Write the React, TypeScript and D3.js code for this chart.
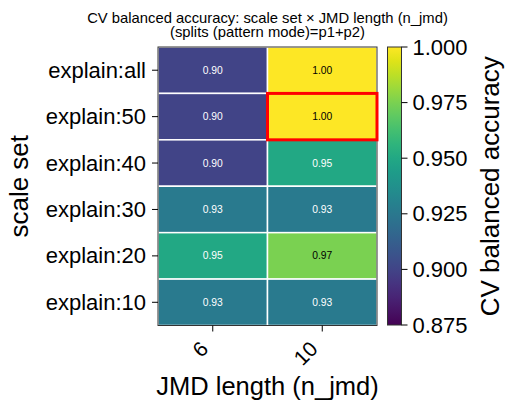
import React from "react";
import * as d3 from "d3";

const rowLabels = ["explain:all", "explain:50", "explain:40", "explain:30", "explain:20", "explain:10"];
const colLabels = ["6", "10"];
const values6 = [0.9, 0.9, 0.9, 0.926, 0.95, 0.926];
const values10 = [1.0, 1.0, 0.95, 0.926, 0.975, 0.926];
const cbarTicks = [0.875, 0.9, 0.925, 0.95, 0.975, 1.0];
const highlight = { row: "explain:50", col: "10" };
const titleLines = ["CV balanced accuracy: scale set × JMD length (n_jmd)", "(splits (pattern mode)=p1+p2)"];

const FONT = "'Liberation Sans', Arial, Helvetica, sans-serif";

export default function App() {
  const W = 511, H = 411;
  const left = 158, right = 377, top = 47, bottom = 325.5;
  const cbX = 387.5, cbW = 14;

  const x = d3.scaleBand<string>().domain(colLabels).range([left, right]);
  const y = d3.scaleBand<string>().domain(rowLabels).range([top, bottom]);
  const color = d3.scaleSequential(d3.interpolateViridis).domain([0.875, 1.0]);
  const cbY = d3.scaleLinear().domain([0.875, 1.0]).range([bottom - 0.5, top]);

  const cells: { r: string; c: string; v: number }[] = [];
  rowLabels.forEach((r, i) => {
    cells.push({ r, c: "6", v: values6[i] });
    cells.push({ r, c: "10", v: values10[i] });
  });

  const stops = d3.range(0, 1.0001, 0.05);

  return (
    <svg width={W} height={H} style={{ position: "absolute", left: 0, top: 0, background: "#fff" }} fontFamily={FONT}>
      <defs>
        <linearGradient id="vir" x1="0" y1="1" x2="0" y2="0">
          {stops.map((t) => (
            <stop key={t} offset={t} stopColor={d3.interpolateViridis(t)} />
          ))}
        </linearGradient>
      </defs>
      {titleLines.map((t, i) => (
        <text key={i} x={(left + right) / 2} y={22.5 + i * 14.5} textAnchor="middle" fontSize={14.8} fill="#000">
          {t}
        </text>
      ))}
      {cells.map((d, i) => (
        <g key={i}>
          <rect x={x(d.c)} y={y(d.r)} width={x.bandwidth()} height={y.bandwidth()} fill={color(d.v)} stroke="#fff" strokeWidth={1.5} />
          <text
            x={(x(d.c) as number) + x.bandwidth() / 2}
            y={(y(d.r) as number) + y.bandwidth() / 2}
            textAnchor="middle"
            dominantBaseline="central"
            fontSize={10.3}
            fill={d.v > 0.96 ? "#000" : "#fff"}
          >
            {d.v.toFixed(2)}
          </text>
        </g>
      ))}
      <rect x={left} y={top} width={right - left} height={bottom - top} fill="none" stroke="#333" strokeWidth={1} />
      <rect
        x={x(highlight.col)}
        y={y(highlight.row)}
        width={x.bandwidth()}
        height={y.bandwidth()}
        fill="none"
        stroke="#ff0000"
        strokeWidth={3}
      />
      {rowLabels.map((r) => {
        const cy = (y(r) as number) + y.bandwidth() / 2;
        return (
          <g key={r}>
            <line x1={left - 6} x2={left} y1={cy} y2={cy} stroke="#000" strokeWidth={1} />
            <text x={left - 12} y={cy} textAnchor="end" dominantBaseline="central" fontSize={22} fill="#000">
              {r}
            </text>
          </g>
        );
      })}
      {colLabels.map((c) => {
        const cx = (x(c) as number) + x.bandwidth() / 2;
        return (
          <g key={c}>
            <line x1={cx} x2={cx} y1={bottom} y2={bottom + 6} stroke="#000" strokeWidth={1} />
            <text
              transform={`translate(${cx - 14},${bottom + 14}) rotate(-45)`}
              textAnchor="end"
              dominantBaseline="hanging"
              fontSize={21}
              fill="#000"
            >
              {c}
            </text>
          </g>
        );
      })}
      <text x={(left + right) / 2} y={395} textAnchor="middle" fontSize={25.5} fill="#000">
        JMD length (n_jmd)
      </text>
      <text transform={`translate(28,${(top + bottom) / 2}) rotate(-90)`} textAnchor="middle" fontSize={26} fill="#000">
        scale set
      </text>
      <rect x={cbX} y={top} width={cbW} height={bottom - top - 0.5} fill="url(#vir)" stroke="#333" strokeWidth={1} />
      {cbarTicks.map((t) => (
        <g key={t}>
          <line x1={cbX + cbW} x2={cbX + cbW + 6} y1={cbY(t)} y2={cbY(t)} stroke="#000" strokeWidth={1} />
          <text x={cbX + cbW + 11} y={cbY(t)} dominantBaseline="central" fontSize={22} fill="#000">
            {t.toFixed(3)}
          </text>
        </g>
      ))}
      <text transform={`translate(499,${(top + bottom) / 2}) rotate(-90)`} textAnchor="middle" fontSize={26} fill="#000">
        CV balanced accuracy
      </text>
    </svg>
  );
}
